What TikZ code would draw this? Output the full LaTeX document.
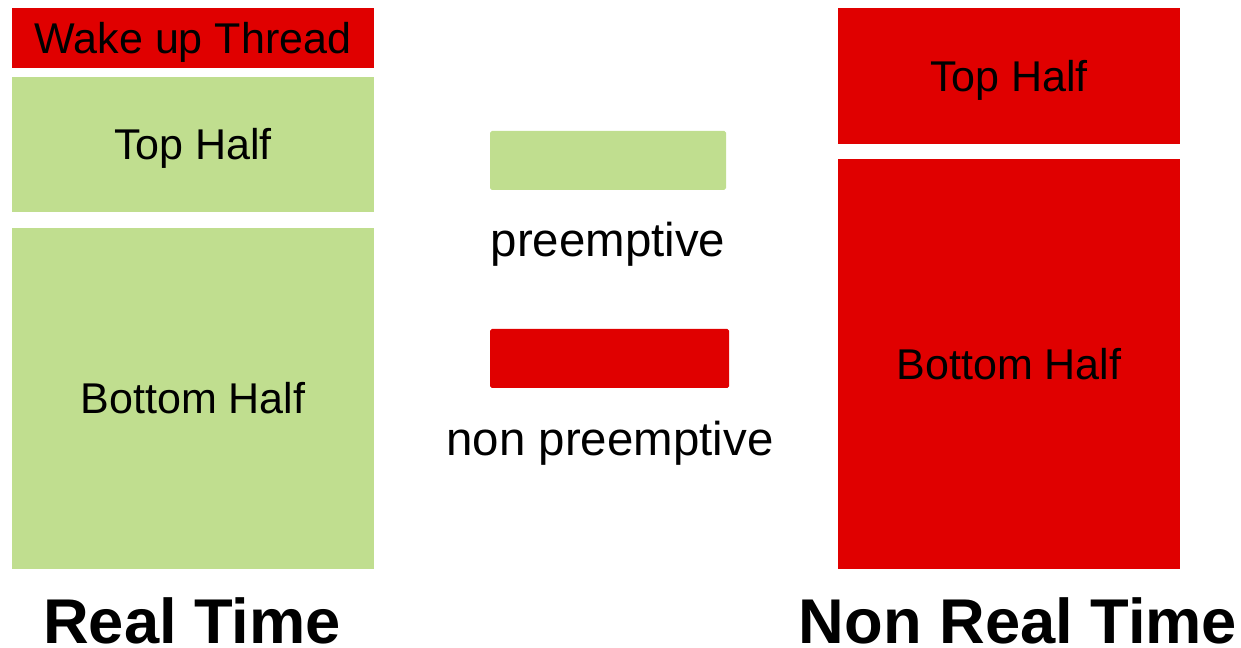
\documentclass[tikz,border=0pt]{standalone}
\usepackage{fontspec}
\setmainfont{Liberation Sans}
\definecolor{rtred}{HTML}{E00000}
\definecolor{rtgreen}{HTML}{C0DE8F}
\tikzset{
    block/.style={inner sep=0pt, outer sep=0pt, font=\fontsize{24.5}{28}\selectfont, text height=17.6pt, text depth=0pt},
    legendbox/.style={rounded corners=1pt, inner sep=0pt},
    legendtext/.style={font=\fontsize{27}{31}\selectfont, anchor=base},
    title/.style={font=\fontsize{36}{40}\selectfont\bfseries, anchor=base, inner sep=0pt, text depth=0pt}
}
\begin{document}
\begin{tikzpicture}[x=0.02cm, y=-0.02cm]

    \useasboundingbox (0,0) rectangle (1241,648);

    % Real Time column
    \node[block, fill=rtred, minimum width=362*0.02cm, minimum height=60*0.02cm] (wake) at (193,38) {Wake up Thread};
    \node[block, fill=rtgreen, minimum width=362*0.02cm, minimum height=135*0.02cm] (tophalf) at (193,144.5) {Top Half};
    \node[block, fill=rtgreen, minimum width=362*0.02cm, minimum height=341*0.02cm] (bottomhalf) at (193,398.5) {Bottom Half};
    \node[title] (rt) at (192,643) {Real Time};

    % Legend
    \node[legendbox, fill=rtgreen, minimum width=236*0.02cm, minimum height=59*0.02cm] (legpre) at (608,160.5) {};
    \node[legendtext] (pretext) at (608,257) {preemptive};
    \node[legendbox, fill=rtred, minimum width=239*0.02cm, minimum height=59*0.02cm] (legnon) at (609.5,358.5) {};
    \node[legendtext] (nontext) at (610,456) {non preemptive};

    % Non Real Time column
    \node[block, fill=rtred, minimum width=342*0.02cm, minimum height=136*0.02cm] (nrtop) at (1009,76) {Top Half};
    \node[block, fill=rtred, minimum width=342*0.02cm, minimum height=410*0.02cm] (nrbottom) at (1009,364) {Bottom Half};
    \node[title] (nrt) at (1018,643) {Non Real Time};

\end{tikzpicture}
\end{document}
